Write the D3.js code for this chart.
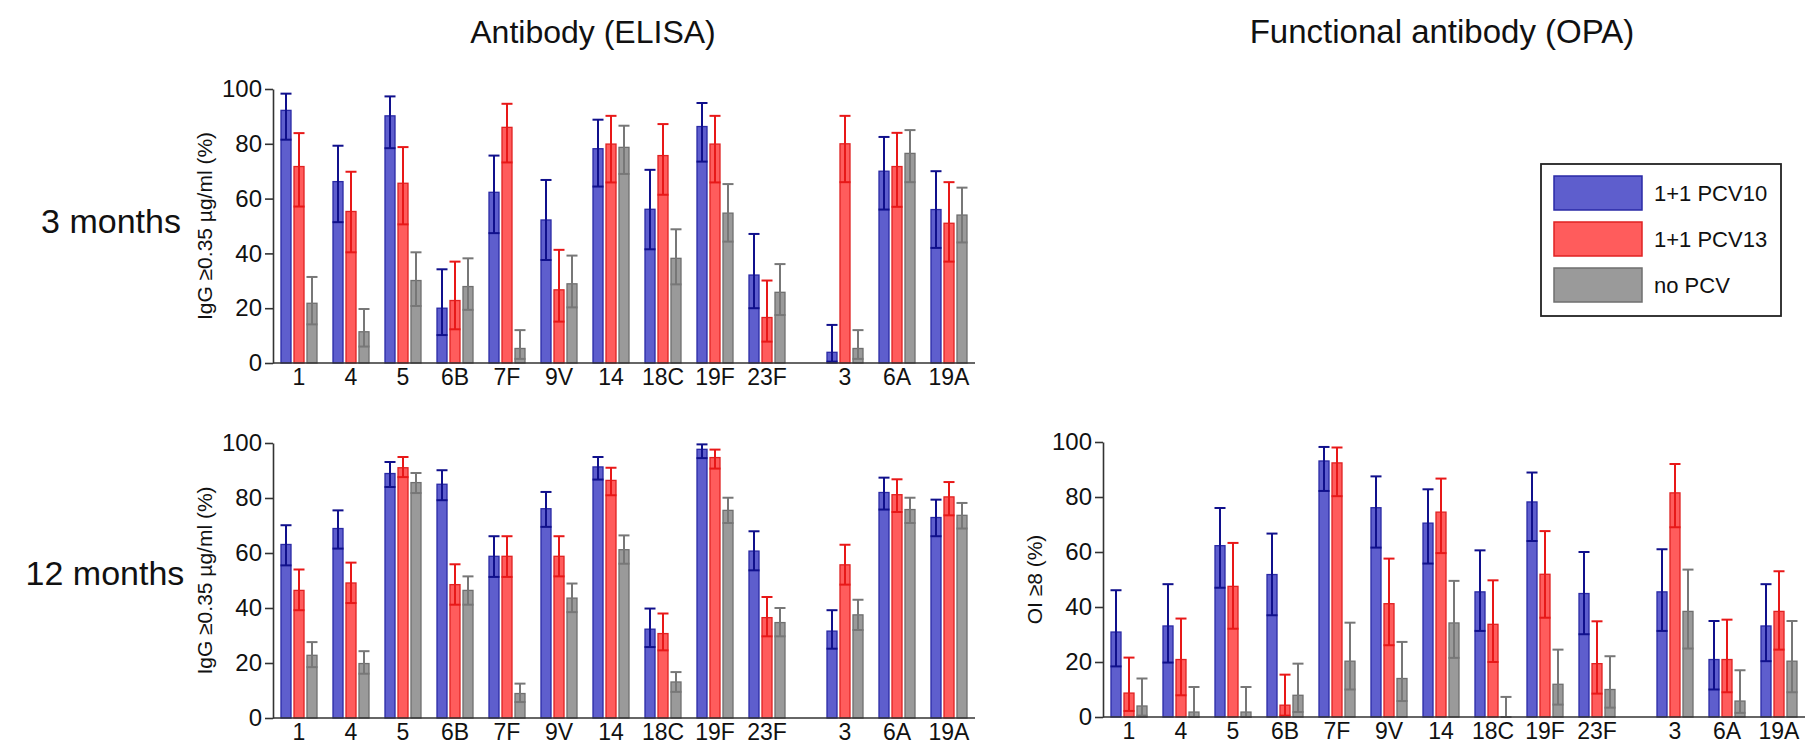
<!DOCTYPE html>
<html>
<head>
<meta charset="UTF-8">
<script src="https://cdn.jsdelivr.net/npm/d3@7"></script>
<style>
  body { margin: 0; background: #fff; }
  text { font-family: "Liberation Sans", Arial, sans-serif; fill: #111; }
</style>
</head>
<body>
<script>
// categories
var serotypes = ["1", "4", "5", "6B", "7F", "9V", "14", "18C", "19F", "23F", "3", "6A", "19A"];
var slots = [0, 1, 2, 3, 4, 5, 6, 7, 8, 9, 10.5, 11.5, 12.5];
var groups = ["1+1 PCV10", "1+1 PCV13", "no PCV"];

// [percent, lower CI, upper CI] per serotype
var elisa3Pcv10 = [[92.2,81.5,98.3],[66.2,51.4,79.3],[90.2,78.4,97.3],[20,10.2,34.2],[62.3,47.4,75.7],[52.2,37.6,66.8],[78.2,64.4,88.8],[56.1,41.5,70.5],[86.3,73.5,94.9],[32.1,20,47.1],[3.9,0.5,13.9],[70,56,82.5],[56,42,70]];
var elisa3Pcv13 = [[71.7,57.1,83.9],[55.3,40.4,69.8],[65.6,50.6,78.8],[22.8,12.3,37],[86,73.2,94.6],[26.7,15.1,41.3],[79.9,65.9,90.2],[75.7,61.4,87.2],[79.9,65.9,90.2],[16.6,7.8,30.1],[80,66,90.2],[71.7,57,84],[51,37,66]];
var elisa3None  = [[21.8,14.1,31.4],[11.4,6,19.7],[30.1,20.8,40.4],[27.9,19.4,38.2],[5.3,1.5,12],[28.9,20.3,39.2],[78.7,69,86.6],[38.2,28.7,48.8],[54.7,44.3,65.3],[25.8,17.5,36.1],[5.3,1.5,12],[76.5,66,85],[54,44,64]];

var elisa12Pcv10 = [[63.1,55.5,70.1],[68.9,61.6,75.5],[88.9,84,93.1],[85,79.2,90.1],[58.8,51.3,66.1],[76.1,69.5,82.2],[91.3,86.7,94.9],[32.3,25.8,39.8],[97.7,94.5,99.5],[60.7,53.7,67.9],[31.6,25.2,39.2],[82,75.8,87.4],[72.9,66.1,79.4]];
var elisa12Pcv13 = [[46.4,39.2,54],[49.1,41.8,56.5],[91,87.6,94.9],[48.5,41.2,55.9],[58.8,51.3,66.1],[58.8,51.5,66.1],[86.4,81,91],[30.7,24.6,38],[94.7,90.7,97.6],[36.5,29.7,44],[55.7,48.5,63],[81.2,74.9,86.8],[80.4,73.7,85.8]];
var elisa12None  = [[22.8,18.5,27.6],[19.8,16.1,24.3],[85.6,81.8,89.1],[46.4,41.2,51.5],[8.9,5.8,12.5],[43.6,38.5,48.9],[61.2,56.1,66.4],[13.1,9.5,16.7],[75.5,70.9,80.1],[34.7,29.7,40],[37.5,32,43],[75.8,70.9,80.1],[73.7,68.9,78.2]];

var opa12Pcv10 = [[30.9,18.4,46.1],[33.1,19.8,48.3],[62.3,47,76],[51.8,37,66.7],[93.1,82.2,98.2],[76.1,61.6,87.5],[70.5,55.8,82.8],[45.5,31.3,60.6],[78.2,64,88.9],[44.9,30.1,60],[45.5,31.3,61],[20.9,10,34.9],[33.1,20.3,48.3]];
var opa12Pcv13 = [[8.7,2.2,21.6],[20.9,7.9,35.8],[47.5,32.1,63.3],[4.3,0.5,15.4],[92.4,80.3,98],[41.2,26.1,57.6],[74.5,59.6,86.7],[33.7,20,49.7],[51.9,36.1,67.6],[19.4,8.5,34.8],[81.5,69,92],[20.9,9,35.4],[38.4,24.5,53]];
var opa12None  = [[4,0.5,14],[1.8,0,10.9],[1.8,0,10.9],[7.9,1.8,19.4],[20.3,10,34.3],[14,5.8,27.3],[34.2,21.5,49.5],[0,0,7.3],[11.9,4.5,24.5],[10,3.4,22.1],[38.4,24.9,53.6],[5.8,1.5,17],[20.3,9,34.9]];

var yTicks = [0, 20, 40, 60, 80, 100];

var fills   = ["#5e5ecd", "#ff5c5c", "#9a9a9a"],
    strokes = ["#2a2aa6", "#e02222", "#6f6f6f"],
    errCol  = ["#10108c", "#e81818", "#777777"];

var svg = d3.select("body").append("svg")
    .attr("width", 1811)
    .attr("height", 745);

function drawPanel(left, top, bottom, series, yLabel) {
  var x = d3.scaleLinear().domain([-0.5, 13]).range([left, left + 702]);
  var y = d3.scaleLinear().domain([0, 100]).range([bottom, top]);
  var sub = d3.scaleBand().domain([0, 1, 2]).range([-18, 18]).paddingInner(0.23);
  var bw = sub.bandwidth();

  var g = svg.append("g");

  series.forEach(function(vals, k) {
    var sg = g.append("g");
    var items = sg.selectAll("g").data(vals).enter().append("g");

    items.append("rect")
        .attr("x", function(d, i) { return x(slots[i]) + sub(k); })
        .attr("y", function(d) { return y(d[0]); })
        .attr("width", bw)
        .attr("height", function(d) { return y(0) - y(d[0]); })
        .attr("fill", fills[k])
        .attr("stroke", strokes[k])
        .attr("stroke-width", 1.3);

    var cx = function(d, i) { return x(slots[i]) + sub(k) + bw / 2; };
    items.append("line")
        .attr("x1", cx).attr("x2", cx)
        .attr("y1", function(d) { return y(d[1]); })
        .attr("y2", function(d) { return y(d[2]); })
        .attr("stroke", errCol[k]).attr("stroke-width", 2);
    [1, 2].forEach(function(j) {
      items.append("line")
          .attr("x1", function(d, i) { return x(slots[i]) + sub(k) - 0.5; })
          .attr("x2", function(d, i) { return x(slots[i]) + sub(k) + bw + 0.5; })
          .attr("y1", function(d) { return y(d[j]); })
          .attr("y2", function(d) { return y(d[j]); })
          .attr("stroke", errCol[k]).attr("stroke-width", 2);
    });
  });

  // y axis
  var ya = g.append("g")
      .attr("transform", "translate(" + left + ",0)")
      .call(d3.axisLeft(y).tickValues(yTicks).tickSize(8).tickSizeOuter(0).tickPadding(3));
  ya.selectAll("path, line").attr("stroke", "#333").attr("stroke-width", 1.6);
  ya.selectAll("text").attr("font-size", 24).attr("fill", "#111")
      .attr("font-family", "Liberation Sans, Arial, sans-serif");

  // x axis line + labels
  g.append("line")
      .attr("x1", x(-0.5)).attr("x2", x(13))
      .attr("y1", y(0)).attr("y2", y(0))
      .attr("stroke", "#333").attr("stroke-width", 1.6);
  g.selectAll(".xl").data(serotypes).enter().append("text")
      .attr("x", function(d, i) { return x(slots[i]); })
      .attr("y", y(0) + 22)
      .attr("text-anchor", "middle")
      .attr("font-size", 23)
      .text(function(d) { return d; });

  g.append("text")
      .attr("transform", "translate(" + (left - 61) + "," + ((top + bottom) / 2) + ") rotate(-90)")
      .attr("text-anchor", "middle")
      .attr("font-size", 21)
      .text(yLabel);
}

drawPanel(273, 89, 363, [elisa3Pcv10, elisa3Pcv13, elisa3None], "IgG \u22650.35 \u00b5g/ml (%)");
drawPanel(273, 443, 718, [elisa12Pcv10, elisa12Pcv13, elisa12None], "IgG \u22650.35 \u00b5g/ml (%)");
drawPanel(1103, 442, 717, [opa12Pcv10, opa12Pcv13, opa12None], "OI \u22658 (%)");

// titles and row labels
svg.append("text").attr("x", 593).attr("y", 43).attr("text-anchor", "middle")
    .attr("font-size", 32).text("Antibody (ELISA)");
svg.append("text").attr("x", 1442).attr("y", 43).attr("text-anchor", "middle")
    .attr("font-size", 33).text("Functional antibody (OPA)");
svg.append("text").attr("x", 111).attr("y", 233).attr("text-anchor", "middle")
    .attr("font-size", 34).text("3 months");
svg.append("text").attr("x", 105).attr("y", 585).attr("text-anchor", "middle")
    .attr("font-size", 34).text("12 months");

// legend
var lg = svg.append("g");
lg.append("rect").attr("x", 1541).attr("y", 164).attr("width", 240).attr("height", 152)
    .attr("fill", "none").attr("stroke", "#222").attr("stroke-width", 1.8);
var li = lg.selectAll(".li").data(groups).enter().append("g")
    .attr("transform", function(d, i) { return "translate(1554," + (176 + i * 46) + ")"; });
li.append("rect").attr("width", 88).attr("height", 34)
    .attr("fill", function(d, i) { return fills[i]; })
    .attr("stroke", function(d, i) { return strokes[i]; })
    .attr("stroke-width", 1.5);
li.append("text").attr("x", 100).attr("y", 25).attr("font-size", 22)
    .text(function(d) { return d; });
</script>
</body>
</html>
